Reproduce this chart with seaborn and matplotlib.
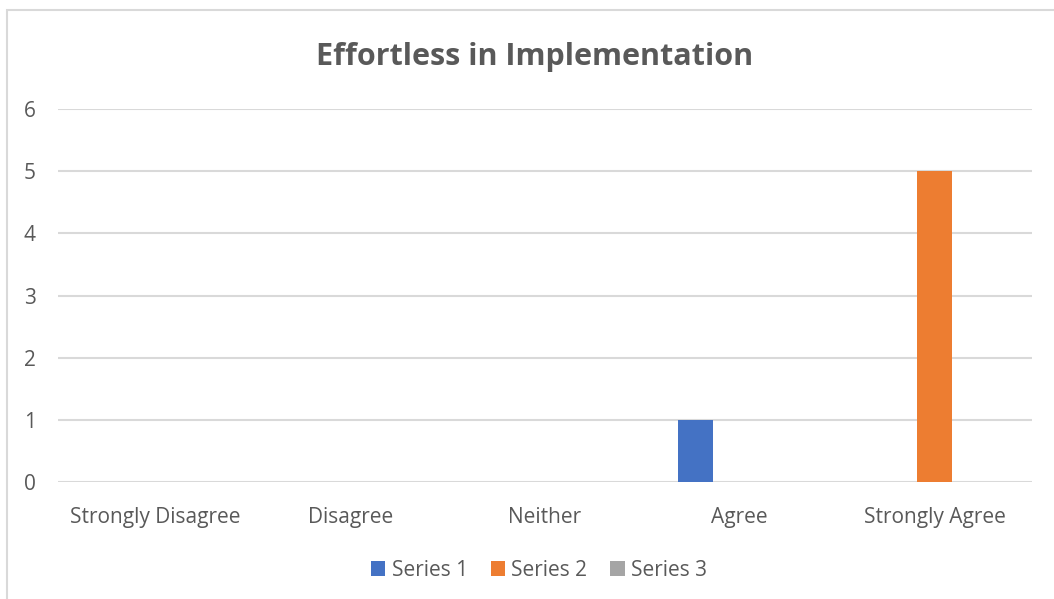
import matplotlib
matplotlib.use("Agg")
import matplotlib.pyplot as plt
import seaborn as sns
import pandas as pd
from matplotlib.patches import Rectangle

categories = ["Strongly Disagree", "Disagree", "Neither", "Agree", "Strongly Agree"]
series_names = ["Series 1", "Series 2", "Series 3"]
series_1 = [0, 0, 0, 1, 0]
series_2 = [0, 0, 0, 0, 5]
series_3 = [0, 0, 0, 0, 0]
colors = ["#4472C4", "#ED7D31", "#A5A5A5"]

rows = []
for name, vals in zip(series_names, [series_1, series_2, series_3]):
    for cat, v in zip(categories, vals):
        rows.append({"category": cat, "series": name, "value": v})
df = pd.DataFrame(rows)

sns.set_style("white")
plt.rcParams["font.family"] = ["Open Sans", "DejaVu Sans"]
text_col = "#595959"

fig = plt.figure(figsize=(10.54, 5.99), dpi=100)
ax = fig.add_axes([58 / 1054, 1 - 482 / 599, (1032 - 58) / 1054, (482 - 109) / 599])

sns.barplot(data=df, x="category", y="value", hue="series", order=categories,
            hue_order=series_names, palette=colors, width=0.68, gap=0.2,
            saturation=1, linewidth=0, ax=ax)

ax.set_ylim(0, 6)
ax.set_yticks(range(0, 7))
ax.yaxis.grid(True, color="#d9d9d9", linewidth=1.5)
ax.set_axisbelow(True)
for s in ax.spines.values():
    s.set_visible(False)
ax.tick_params(axis="both", length=0, labelsize=15, colors=text_col)
ax.tick_params(axis="x", pad=18)
ax.tick_params(axis="y", pad=16)
ax.set_xlabel("")
ax.set_ylabel("")

fig.text(535 / 1054, 1 - 57 / 599, "Effortless in Implementation", ha="center", va="center",
         fontsize=22, fontweight="bold", color=text_col)

handles, labels = ax.get_legend_handles_labels()
ax.legend(handles, labels, loc="center", bbox_to_anchor=(539 / 1054, 1 - 570 / 599),
          bbox_transform=fig.transFigure, ncol=3, frameon=False, fontsize=15,
          labelcolor=text_col, handlelength=0.7, handleheight=0.7, handletextpad=0.3,
          columnspacing=1.1)

# chart outer border
fig.patches.append(Rectangle((7 / 1054, -0.1), 1.1, 1 - 10 / 599 + 0.1,
                             transform=fig.transFigure, fill=False,
                             edgecolor="#d9d9d9", linewidth=1.5))

fig.savefig("out.png", dpi=100)
